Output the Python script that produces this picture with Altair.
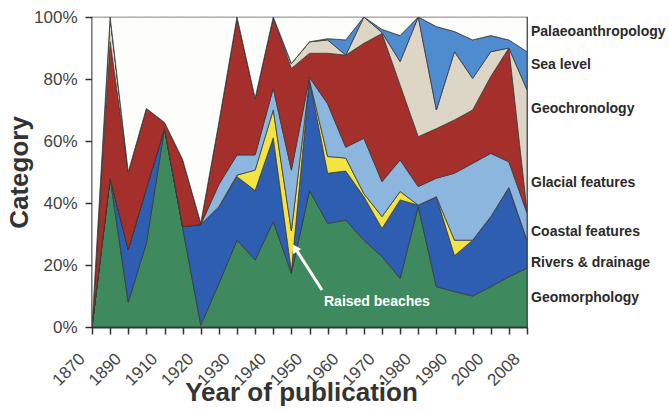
import altair as alt
import pandas as pd

# Publication years (ordinal steps, labelled every other step)
years = ["1870", "1880", "1890", "1900", "1910", "1915", "1920", "1925", "1930",
         "1935", "1940", "1945", "1950", "1955", "1960", "1965", "1970", "1975",
         "1980", "1985", "1990", "1995", "2000", "2005", "2008"]
shown_years = ["1870", "1890", "1910", "1920", "1930", "1940", "1950", "1960",
               "1970", "1980", "1990", "2000", "2008"]

# Share of papers per category (%), bottom of the stack first
geomorphology = [0, 48, 8, 27, 64, 32, 0.6, 14, 28, 21.6, 34, 17.3, 44, 33.4, 34.5,
                 28, 22.7, 15.7, 38.8, 13, 11.4, 10, 13, 16.2, 19]
rivers = [0, 0, 17, 17.7, 0, 0.4, 32.4, 24.8, 20.5, 22.4, 27, 0.7, 35.7, 16.2, 15.8,
          14, 9.1, 25.3, 0.5, 29, 11.6, 18, 22.6, 28.8, 9]
raised_beaches = [0, 0, 0, 0, 0, 0, 0, 0, 0.5, 6.6, 9, 13, 0, 5.4, 4.2,
                  1, 3.8, 2.7, 0, 0, 5, 0, 0, 0, 0]
coastal = [0, 0, 0, 0, 0, 0, 0, 7.2, 6.5, 4.9, 7, 19.6, 0.8, 17, 3.5,
           17.9, 11.3, 10.2, 6, 6, 21.6, 24.8, 20.4, 8.3, 8.8]
glacial = [0, 44, 25, 25.8, 2, 21.6, 0.5, 20, 44.5, 18.3, 23, 32.8, 7.8, 16.3, 29.7,
           30.6, 47.8, 24.1, 16.1, 16, 17.2, 17.2, 24.8, 36.7, 0.7]
geochronology = [0, 8, 0, 0, 0, 0, 0, 0, 0, 0, 0, 1.6, 3.7, 4.3, 0,
                 8.5, 0.3, 7.6, 38.6, 6, 22, 10.2, 8, 0, 39]
sea_level = [0, 0, 0, 0, 0, 0, 0, 0, 0, 0, 0, 0, 0, 0.4, 4.9,
             0, 1, 8.4, 0, 26.9, 6.5, 12.4, 5.2, 2.6, 12.3]
palaeoanthropology = [100, 0, 50, 29.5, 34, 46, 66.5, 34, 0, 26.2, 0, 15, 8, 7, 7.4,
                      0, 4, 6, 0, 3.1, 4.7, 7.4, 6, 7.4, 11.2]

categories = ["Geomorphology", "Rivers & drainage", "Raised beaches", "Coastal features",
              "Glacial features", "Geochronology", "Sea level", "Palaeoanthropology"]
series = [geomorphology, rivers, raised_beaches, coastal, glacial,
          geochronology, sea_level, palaeoanthropology]
colors = ["#3e8a5e", "#2d5eb1", "#f1e443", "#8db6df", "#a52f2a",
          "#ddd5c5", "#4f8ccf", "#fdfdfb"]

rows = []
for rank, (cat, vals) in enumerate(zip(categories, series)):
    for yr, v in zip(years, vals):
        rows.append({"year": yr, "category": cat, "share": v, "rank": rank})
df = pd.DataFrame(rows)

label_expr = "indexof([" + ",".join("'%s'" % y for y in shown_years) + "], datum.label) >= 0 ? datum.label : ''"

W, H = 435, 310
FONT = "Liberation Sans"

areas = alt.Chart(df).mark_area(stroke="#3a3a3a", strokeWidth=0.8, clip=True).encode(
    x=alt.X("year:O", sort=years,
            scale=alt.Scale(type="point", padding=0),
            axis=alt.Axis(title="Year of publication", labelExpr=label_expr,
                          labelAngle=315, labelAlign="right", labelBaseline="middle",
                          labelOverlap=False, labelFontSize=17,
                          labelColor="#444", labelPadding=22, labelOffset=-10,
                          titleFontSize=26, titleFontWeight="bold", titleColor="#333",
                          titleBaseline="alphabetic", titleY=73, titleX=209,
                          titleAlign="center",
                          tickSize=7, tickWidth=1.5, tickColor="#333",
                          domainColor="#333", domainWidth=2)),
    y=alt.Y("share:Q", stack="zero",
            scale=alt.Scale(domain=[0, 100], nice=False),
            axis=alt.Axis(title="Category", values=[0, 20, 40, 60, 80, 100],
                          labelExpr="datum.value + '%'", labelFontSize=17,
                          labelColor="#444", labelPadding=8,
                          titleFontSize=26, titleFontWeight="bold", titleColor="#333",
                          titleAngle=270, titleAlign="center", titleBaseline="middle",
                          titleX=-73, titleY=155,
                          tickSize=7, tickWidth=1.5, tickColor="#333",
                          domainColor="#333", domainWidth=2, grid=False)),
    color=alt.Color("category:N", sort=categories,
                    scale=alt.Scale(domain=categories, range=colors), legend=None),
    order=alt.Order("rank:Q", sort="ascending"),
)

# Category names to the right of the plot, listed top to bottom
side_names = ["Palaeoanthropology", "Sea level", "Geochronology", "Glacial features",
              "Coastal features", "Rivers & drainage", "Geomorphology"]
side_pos = [95.3, 84.4, 70.3, 46.5, 30.6, 20.8, 9.2]
side_df = pd.DataFrame({"name": side_names, "pos": side_pos})
side = alt.Chart(side_df).mark_text(align="left", baseline="middle", font=FONT,
                                    fontSize=14, fontWeight="bold", color="#2a2a2a").encode(
    x=alt.value(W + 4),
    y=alt.Y("pos:Q", scale=alt.Scale(domain=[0, 100], nice=False)),
    text="name:N",
)

# Pointer to the raised-beaches dip
arrow = alt.Chart(pd.DataFrame({"a": [0]})).mark_rule(color="white", strokeWidth=3).encode(
    x=alt.value(322 - 92), y=alt.value(290 - 17),
    x2=alt.value(297 - 92), y2=alt.value(251 - 17),
)
head = alt.Chart(pd.DataFrame({"a": [0]})).mark_point(
    shape="triangle-up", filled=True, color="white", size=90, angle=328, opacity=1).encode(
    x=alt.value(295 - 92), y=alt.value(248 - 17),
)
note = alt.Chart(pd.DataFrame({"t": ["Raised beaches"]})).mark_text(
    align="left", baseline="middle", font=FONT, fontSize=14, fontWeight="bold",
    color="white").encode(
    x=alt.value(324 - 92), y=alt.value(302 - 17), text="t:N",
)

chart = alt.layer(areas, side, arrow, head, note).properties(
    width=W, height=H,
    autosize=alt.AutoSizeParams(type="none"),
    padding={"left": 92, "top": 17, "right": 142, "bottom": 83},
).configure(font=FONT, background="white").configure_view(
    stroke="#444", strokeWidth=1.2
)

chart.save("out.html", embed_options={"renderer": "svg", "actions": False})
